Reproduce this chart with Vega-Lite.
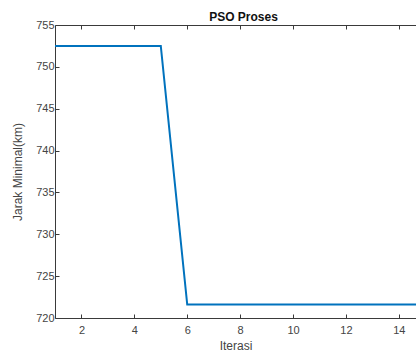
{
  "$schema": "https://vega.github.io/schema/vega-lite/v6.json",
  "autosize": "none",
  "width": 361,
  "height": 293,
  "padding": {"left": 55, "top": 25, "right": 0, "bottom": 34},
  "background": "white",
  "config": {
    "font": "Liberation Sans",
    "view": {"stroke": null},
    "axis": {
      "grid": false,
      "domainColor": "#3a3a3a",
      "tickColor": "#3a3a3a",
      "labelColor": "#444444",
      "titleColor": "#444444",
      "labelFontSize": 11,
      "titleFontSize": 12,
      "titleFontWeight": "normal",
      "tickSize": -4,
      "domainWidth": 1
    }
  },
  "title": {
    "text": "PSO Proses",
    "fontSize": 12,
    "fontWeight": "bold",
    "color": "#111111",
    "anchor": "middle",
    "dx": 8,
    "offset": -5
  },
  "data": {
    "values": [
      {"iterasi": 1, "jarak": 752.5},
      {"iterasi": 2, "jarak": 752.5},
      {"iterasi": 3, "jarak": 752.5},
      {"iterasi": 4, "jarak": 752.5},
      {"iterasi": 5, "jarak": 752.5},
      {"iterasi": 6, "jarak": 721.6},
      {"iterasi": 7, "jarak": 721.6},
      {"iterasi": 8, "jarak": 721.6},
      {"iterasi": 9, "jarak": 721.6},
      {"iterasi": 10, "jarak": 721.6},
      {"iterasi": 11, "jarak": 721.6},
      {"iterasi": 12, "jarak": 721.6},
      {"iterasi": 13, "jarak": 721.6},
      {"iterasi": 14, "jarak": 721.6},
      {"iterasi": 15, "jarak": 721.6}
    ]
  },
  "layer": [
    {
      "mark": {"type": "line", "color": "#0072BD", "strokeWidth": 2, "clip": true},
      "encoding": {
        "x": {
          "field": "iterasi",
          "type": "quantitative",
          "scale": {"domain": [1, 14.65], "nice": false, "zero": false},
          "axis": {"title": "Iterasi", "values": [2, 4, 6, 8, 10, 12, 14], "labelPadding": 10, "titlePadding": 5}
        },
        "y": {
          "field": "jarak",
          "type": "quantitative",
          "scale": {"domain": [720, 755], "nice": false, "zero": false},
          "axis": {"title": "Jarak Minimal(km)", "values": [720, 725, 730, 735, 740, 745, 750, 755], "labelPadding": 5, "titlePadding": 11}
        }
      }
    },
    {
      "mark": {"type": "line", "opacity": 0, "clip": true},
      "encoding": {
        "x": {
          "field": "iterasi",
          "type": "quantitative",
          "scale": {"domain": [1, 14.65], "nice": false, "zero": false},
          "axis": {"title": null, "labels": false, "orient": "top", "values": [2, 4, 6, 8, 10, 12, 14]}
        },
        "y": {
          "field": "jarak",
          "type": "quantitative",
          "scale": {"domain": [720, 755], "nice": false, "zero": false},
          "axis": {"title": "Jarak Minimal(km)", "values": [720, 725, 730, 735, 740, 745, 750, 755], "labelPadding": 5, "titlePadding": 11}
        }
      }
    }
  ],
  "resolve": {"axis": {"x": "independent"}}
}
